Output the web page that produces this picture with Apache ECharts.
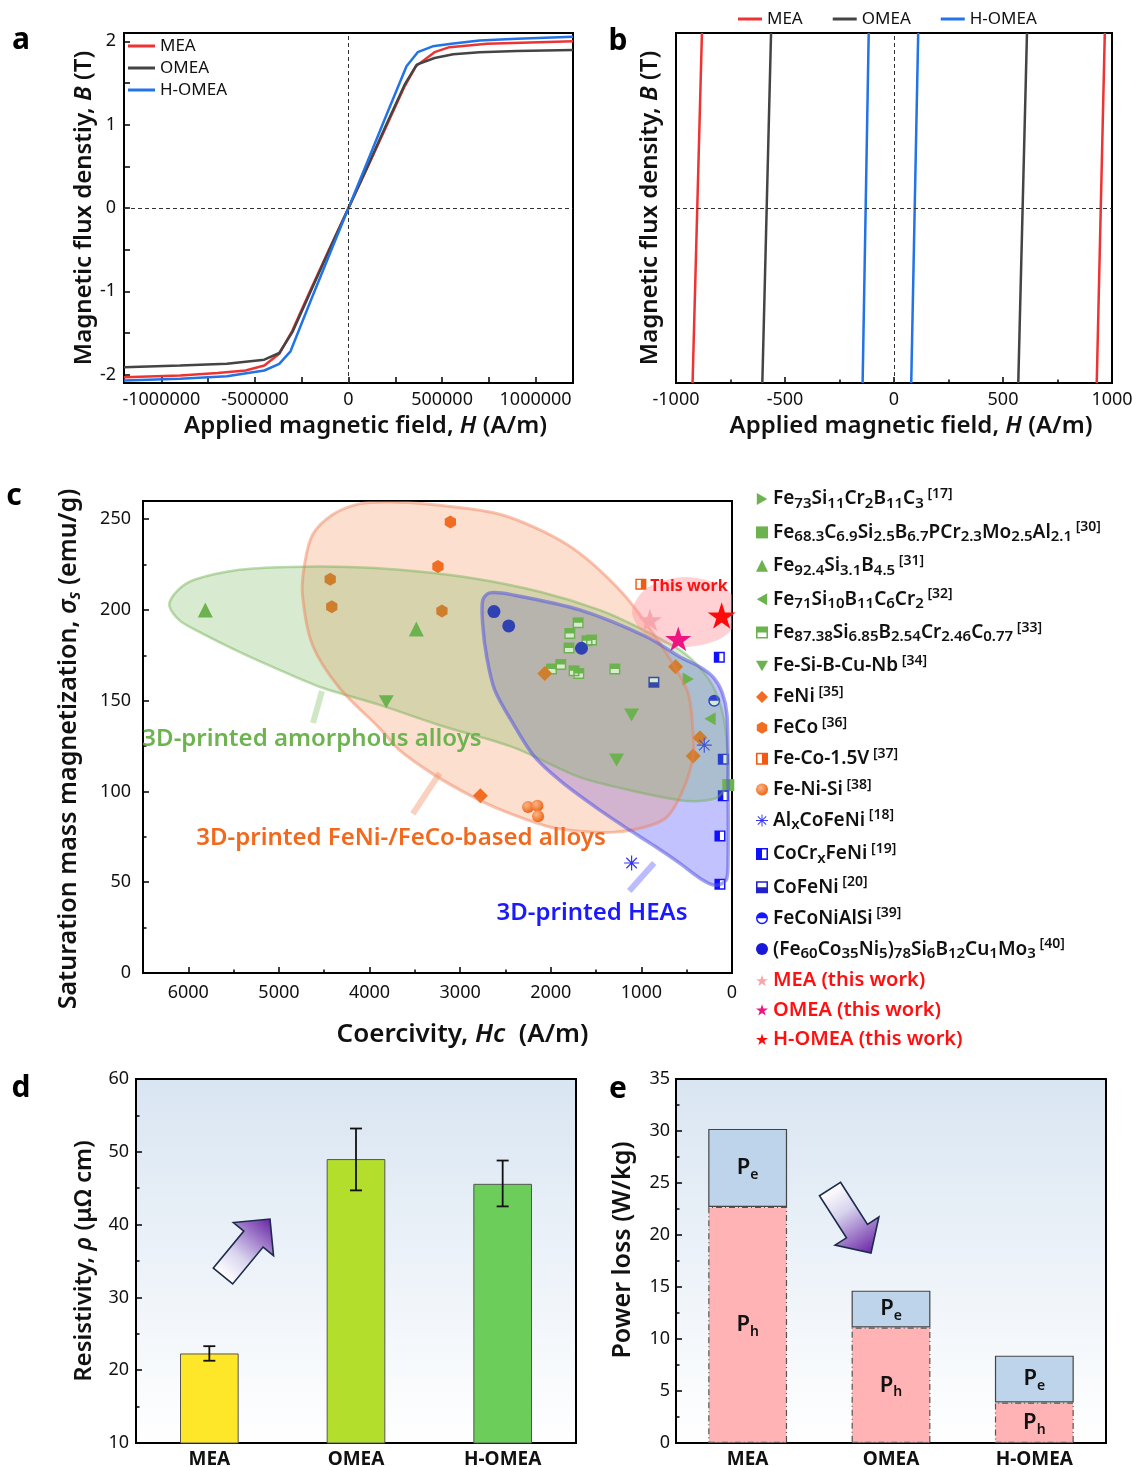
<!DOCTYPE html>
<html lang="en">
<head>
<meta charset="UTF-8">
<title>Magnetic and electrical properties</title>
<script src="https://cdn.jsdelivr.net/npm/echarts@6/dist/echarts.min.js"></script>
<style>
  html, body { margin: 0; padding: 0; background: #fff; }
  #main { width: 1132px; height: 1467px; }
</style>
</head>
<body>
<div id="main"></div>
<script>
var FONT = '"Noto Sans", "Open Sans", "DejaVu Sans", sans-serif';

// ---------- a: B-H curves (H in A/m, B in T) ----------
var curveMEA = [[-1200000,-2.03],[-900000,-2.01],[-700000,-1.98],[-550000,-1.95],[-450000,-1.89],[-370000,-1.75],[-300000,-1.47],[-200000,-0.97],[-100000,-0.48],[0,0],[100000,0.48],[200000,0.97],[300000,1.46],[360000,1.70],[460000,1.87],[540000,1.93],[740000,1.97],[1200000,2.00]];
var curveOMEA = [[-1200000,-1.91],[-900000,-1.89],[-650000,-1.87],[-450000,-1.82],[-370000,-1.74],[-300000,-1.49],[-200000,-0.99],[-100000,-0.49],[0,0],[100000,0.49],[200000,0.99],[300000,1.48],[365000,1.72],[460000,1.80],[560000,1.845],[700000,1.87],[900000,1.885],[1200000,1.895]];
var curveHOMEA = [[-1200000,-2.07],[-900000,-2.05],[-650000,-2.02],[-450000,-1.95],[-370000,-1.87],[-310000,-1.72],[-200000,-1.10],[-100000,-0.55],[0,0],[100000,0.55],[200000,1.10],[310000,1.70],[370000,1.87],[450000,1.94],[550000,1.97],[700000,2.01],[900000,2.03],[1200000,2.055]];
var hTicksA = [-1000000, -500000, 0, 500000, 1000000];
var hMinorA = [-1000000,-750000,-500000,-250000,0,250000,500000,750000,1000000];
var bTicksA = [-2, -1, 0, 1, 2];
var bMinorA = [-2,-1.5,-1,-0.5,0,0.5,1,1.5,2];

// ---------- b: loop detail near B = 0 ----------
var loopMEAdesc = [[-924,-0.02],[-881,0.02]];
var loopMEAasc = [[930,-0.02],[967,0.02]];
var loopOMEAdesc = [[-604,-0.02],[-564,0.02]];
var loopOMEAasc = [[570,-0.02],[610,0.02]];
var loopHOMEAdesc = [[-144,-0.02],[-116,0.02]];
var loopHOMEAasc = [[79,-0.02],[111,0.02]];

// ---------- c: Hc (A/m) vs sigma_s (emu/g) ----------
var feSiCrBC = [[483,162]];
var feCSiBPCrMoAl = [[41,103.5]];
var feSiB = [[5812,200],[3484,189.5]];
var feSiBCCr = [[243,140]];
var feSiBCrCo = [[1698,193],[1790,187],[1550,183.5],[1600,183],[1798,179],[1890,170],[1992,167.5],[1743,166.5],[1691,165],[1293,167.5]];
var feSiBCuNb = [[3816,149.4],[1108,142.1],[1274,117.3]];
var feNi = [[2066,165],[622,168.7],[354,129.6],[428,119.6],[2777,97.6]];
var feCo = [[3108,248.4],[3245,223.9],[4434,216.9],[4417,201.8],[3201,199.4]];
var feCoV = [[1006,214.2]];
var feNiSi = [[2251,91.5],[2147,92.1],[2140,86.4]];
var alCoFeNi = [[306,125.5],[1108,60.6]];
var coCrFeNi = [[140,173.9],[96,117.8],[96,97.6],[133,75.5],[133,48.9]];
var coFeNi = [[862,160.1]];
var feCoNiAlSi = [[196,150]];
var feCoNiSiBCuMo = [[2627,199.1],[2464,191.2],[1661,178.9]];
var meaWork = [[906,194.5]];
var omeaWork = [[593,184]];
var homeaWork = [[114,196.9]];

// shaded groups (outlines in data units)
var greenRegion = [[6210,202.7],[6122,210.5],[5934,216.6],[5437,222.1],[4884,223.7],[4221,223.7],[3669,222.1],[2895,217.7],[2122,210],[1459,199.9],[1017,190],[575,177.9],[354,168],[188,155.8],[88,139.3],[44,117.2],[55,103.5],[155,96.9],[354,94.7],[575,95.2],[1127,100.7],[1680,107.9],[2420,124.4],[3227,136.5],[3890,147.7],[4519,157.1],[4995,167],[5437,176.9],[5879,187.9],[6100,194.4]];
var orangeRegion = [[3779,259.5],[3282,257.9],[2542,252.4],[1812,235.8],[1260,212.1],[873,187.3],[497,155.8],[431,133.8],[431,119],[541,100.8],[718,85.9],[961,80.4],[1293,77.6],[1680,78.1],[2011,80.4],[2542,89.7],[2895,98],[3282,109],[3669,122.8],[3890,134.9],[4332,157],[4630,180.7],[4740,208.3],[4718,224.8],[4630,241.3],[4409,252.4],[4111,258.4]];
var blueRegion = [[2751,205.4],[2674,209.4],[2420,208.3],[1680,200],[939,185.1],[575,174.1],[354,168.6],[210,163.1],[111,154.8],[55,142.1],[44,106.2],[44,62.1],[66,51.1],[188,48.3],[354,52.2],[575,60.4],[851,69.8],[1127,78.6],[1459,89.7],[1867,104.7],[2177,119],[2420,137.8],[2619,156],[2707,174.1],[2751,191.7]];
var pinkRegion = [[-89,199],[86,212.5],[508,218.2],[930,212.5],[1105,199],[930,185.3],[508,179.6],[86,185.3]];
var greenPointer = [[4525,155.3],[4624,137.7]];
var orangePointer = [[3226,110.1],[3523,87.6]];
var bluePointer = [[859,60.6],[1134,45.2]];

// ---------- d: resistivity ----------
var cats = ['MEA', 'OMEA', 'H-OMEA'];
var resist = [22.3, 49.0, 45.6];
var resistLo = [21.3, 44.7, 42.5];
var resistHi = [23.3, 53.2, 48.8];

// ---------- e: power loss ----------
var lossPh = [22.7, 11.1, 3.9];
var lossPe = [7.5, 3.55, 4.5];

// ---------- symbols ----------
var SQ = 'M0,0H10V10H0Z M1.3,1.3V8.7H8.7V1.3Z ';
var SQ_TOP = 'path://' + SQ + 'M1.3,1.3H8.7V5H1.3Z';
var SQ_BOTTOM = 'path://' + SQ + 'M1.3,5H8.7V8.7H1.3Z';
var SQ_LEFT = 'path://' + SQ + 'M1.3,1.3H5V8.7H1.3Z';
var SQ_RIGHT = 'path://' + SQ + 'M5,1.3H8.7V8.7H5Z';
var CIRC_TOP = 'path://M0,5A5,5,0,0,1,10,5A5,5,0,0,1,0,5Z M1.2,5A3.8,3.8,0,0,0,8.8,5A3.8,3.8,0,0,0,1.2,5Z M1.2,5A3.8,3.8,0,0,1,8.8,5Z';
var HEX = 'path://M5,0L9.33,2.5L9.33,7.5L5,10L0.67,7.5L0.67,2.5Z';
var TRI_DOWN = 'path://M0,0L10,0L5,8.66Z';
var TRI_RIGHT = 'path://M0,0L8.66,5L0,10Z';
var TRI_LEFT = 'path://M8.66,0L8.66,10L0,5Z';
var STAR = 'path://M5,0L6.12,3.45L9.76,3.45L6.82,5.59L7.94,9.05L5,6.91L2.06,9.05L3.18,5.59L0.24,3.45L3.88,3.45Z';
var ASTER = 'path://M0,4.6H10V5.4H0Z M4.6,0H5.4V10H4.6Z M1.78,1.22L8.78,8.22L8.22,8.78L1.22,1.78Z M8.22,1.22L8.78,1.78L1.78,8.78L1.22,8.22Z';

var GREEN = '#6cb24f', ORANGE = '#f26c22';

var legendRich = {
  'Fe73Si11Cr2B11C3': 'Fe_{73}Si_{11}Cr_{2}B_{11}C_{3}^{ [17]}',
  'Fe68.3C6.9Si2.5B6.7PCr2.3Mo2.5Al2.1': 'Fe_{68.3}C_{6.9}Si_{2.5}B_{6.7}PCr_{2.3}Mo_{2.5}Al_{2.1}^{ [30]}',
  'Fe92.4Si3.1B4.5': 'Fe_{92.4}Si_{3.1}B_{4.5}^{ [31]}',
  'Fe71Si10B11C6Cr2': 'Fe_{71}Si_{10}B_{11}C_{6}Cr_{2}^{ [32]}',
  'Fe87.38Si6.85B2.54Cr2.46C0.77': 'Fe_{87.38}Si_{6.85}B_{2.54}Cr_{2.46}C_{0.77}^{ [33]}',
  'Fe-Si-B-Cu-Nb': 'Fe-Si-B-Cu-Nb^{ [34]}',
  'FeNi': 'FeNi^{ [35]}',
  'FeCo': 'FeCo^{ [36]}',
  'Fe-Co-1.5V': 'Fe-Co-1.5V^{ [37]}',
  'Fe-Ni-Si': 'Fe-Ni-Si^{ [38]}',
  'AlxCoFeNi': 'Al_{x}CoFeNi^{ [18]}',
  'CoCrxFeNi': 'CoCr_{x}FeNi^{ [19]}',
  'CoFeNi': 'CoFeNi^{ [20]}',
  'FeCoNiAlSi': 'FeCoNiAlSi^{ [39]}',
  '(Fe60Co35Ni5)78Si6B12Cu1Mo3': '(Fe_{60}Co_{35}Ni_{5})_{78}Si_{6}B_{12}Cu_{1}Mo_{3}^{ [40]}'
};

function richText(s) {
  return s.replace(/_\{([^}]*)\}|\^\{([^}]*)\}|([^_^]+)/g, function (m, sub, sup, txt) {
    if (sub !== undefined) return '{s|' + sub + '}';
    if (sup !== undefined) return '{u|' + sup + '}';
    return '{t|' + txt + '}';
  });
}

function makeRich(size) {
  return {
    n: { fontSize: size, fontWeight: 600, fontFamily: FONT, color: '#111', lineHeight: 30 },
    i: { fontSize: size, fontWeight: 600, fontStyle: 'italic', fontFamily: FONT, color: '#111', lineHeight: 30 },
    is: { fontSize: Math.round(size * 0.66), fontWeight: 600, fontStyle: 'italic', fontFamily: FONT, color: '#111', lineHeight: 12, verticalAlign: 'bottom' }
  };
}

function plainNum(v) { return String(v); }

function axis(extra) {
  var base = {
    type: 'value',
    axisLine: { show: true, onZero: false, lineStyle: { color: '#000', width: 2 } },
    axisTick: { show: true, inside: true, length: 6, lineStyle: { color: '#000', width: 1.5 } },
    minorTick: { show: true, splitNumber: 2, length: 3.5, lineStyle: { color: '#000', width: 1.5 } },
    splitLine: { show: false },
    minorSplitLine: { show: false },
    axisLabel: { color: '#111', fontSize: 18, fontFamily: FONT, formatter: plainNum },
    nameLocation: 'middle',
    nameTextStyle: { rich: makeRich(24) }
  };
  return echarts.util.merge(base, extra, true);
}

function lineSeries(name, data, color, idx) {
  return {
    type: 'line', name: name, xAxisIndex: idx, yAxisIndex: idx, data: data,
    symbol: 'none', lineStyle: { color: color, width: 2.5 }, itemStyle: { color: color },
    silent: true
  };
}

function dashedZero(idx) {
  return {
    type: 'line', xAxisIndex: idx, yAxisIndex: idx, data: [], silent: true,
    markLine: {
      silent: true, symbol: ['none', 'none'], label: { show: false },
      lineStyle: { type: [4, 3], color: '#333', width: 1 },
      data: [{ xAxis: 0 }, { yAxis: 0 }]
    }
  };
}

function sc(name, data, symbol, size, color, z) {
  return {
    type: 'scatter', name: name, xAxisIndex: 2, yAxisIndex: 2, data: data,
    symbol: symbol, symbolSize: size, symbolKeepAspect: true,
    itemStyle: { color: color, opacity: 1 }, z: z || 2, silent: true
  };
}

function region(outline, fill, stroke, lw, z) {
  return {
    type: 'custom', xAxisIndex: 2, yAxisIndex: 2, z: z, silent: true, clip: true,
    data: [[3000, 150]],
    renderItem: function (params, api) {
      var pts = outline.map(function (p) { return api.coord(p); });
      return { type: 'polygon', shape: { points: pts, smooth: 0.3 },
        style: { fill: fill, stroke: stroke, lineWidth: lw } };
    }
  };
}

function pointer(pts, color) {
  return {
    type: 'custom', xAxisIndex: 2, yAxisIndex: 2, z: 3, silent: true, clip: true,
    data: [[3000, 150]],
    renderItem: function (params, api) {
      var a = api.coord(pts[0]), b = api.coord(pts[1]);
      return { type: 'line', shape: { x1: a[0], y1: a[1], x2: b[0], y2: b[1] },
        style: { stroke: color, lineWidth: 6 } };
    }
  };
}

function arrowPoints(x0, y0, x1, y1, shaft, head, headLen) {
  var dx = x1 - x0, dy = y1 - y0, L = Math.sqrt(dx * dx + dy * dy);
  var ux = dx / L, uy = dy / L, nx = -uy, ny = ux;
  var local = [[0, -shaft], [L - headLen, -shaft], [L - headLen, -head], [L, 0],
               [L - headLen, head], [L - headLen, shaft], [0, shaft]];
  return local.map(function (p) { return [x0 + ux * p[0] + nx * p[1], y0 + uy * p[0] + ny * p[1]]; });
}

function arrow(x0, y0, x1, y1) {
  return {
    type: 'polygon', z: 50,
    shape: { points: arrowPoints(x0, y0, x1, y1, 12.5, 26, 26) },
    style: {
      fill: { type: 'linear', x: x0, y: y0, x2: x1, y2: y1, global: true,
        colorStops: [{ offset: 0, color: '#ffffff' }, { offset: 0.35, color: '#d8d4ee' }, { offset: 1, color: '#6a26a6' }] },
      stroke: '#1c2a4c', lineWidth: 1.6
    }
  };
}

function txt(x, y, text, font, color) {
  return { type: 'text', x: x, y: y, z: 60,
    style: { text: text, font: font, fill: color, align: 'center', verticalAlign: 'middle',
             textAlign: 'center', textVerticalAlign: 'middle' } };
}

var bgGrad = new echarts.graphic.LinearGradient(0, 0, 0, 1, [
  { offset: 0, color: '#d9e5f2' }, { offset: 1, color: '#ffffff' }
]);

var gridBase = { show: true, borderColor: '#000', borderWidth: 2, containLabel: false, outerBoundsMode: 'none' };

var barRich = {
  p: { fontSize: 22, fontWeight: 600, fontFamily: FONT, color: '#111', lineHeight: 28 },
  s: { fontSize: 14, fontWeight: 600, fontFamily: FONT, color: '#111', lineHeight: 12, verticalAlign: 'bottom' }
};

var RED_ITEMS = { 'MEA (this work)': 1, 'OMEA (this work)': 1, 'H-OMEA (this work)': 1 };

var chart = echarts.init(document.getElementById('main'));

var option = {
  animation: false,
  backgroundColor: '#fff',
  textStyle: { fontFamily: FONT },
  grid: [
    echarts.util.extend({ left: 124, top: 33, width: 449, height: 350 }, gridBase),
    echarts.util.extend({ left: 676, top: 33, width: 436, height: 350 }, gridBase),
    echarts.util.extend({ left: 143, top: 501, width: 589, height: 472 }, gridBase),
    echarts.util.extend({ left: 136, top: 1079, width: 440, height: 364, backgroundColor: bgGrad }, gridBase),
    echarts.util.extend({ left: 676, top: 1079, width: 430, height: 364, backgroundColor: bgGrad }, gridBase)
  ],
  xAxis: [
    axis({ gridIndex: 0, min: -1200000, max: 1200000,
      axisLabel: { customValues: hTicksA, margin: 8 },
      axisTick: { customValues: hMinorA }, minorTick: { show: false },
      name: '{n|Applied magnetic field, }{i|H}{n| (A/m)}', nameGap: 28,
      nameTextStyle: { padding: [0, 0, 0, 34] } }),
    axis({ gridIndex: 1, min: -1000, max: 1000, interval: 500,
      axisLabel: { margin: 8 },
      name: '{n|Applied magnetic field, }{i|H}{n| (A/m)}', nameGap: 28,
      nameTextStyle: { padding: [0, 0, 0, 34] } }),
    axis({ gridIndex: 2, min: 0, max: 6500, interval: 1000, inverse: true,
      axisLabel: { margin: 11, showMaxLabel: false },
      name: '{n|Coercivity, }{i|Hc}{n|  (A/m)}', nameGap: 47,
      nameTextStyle: { padding: [0, 0, 0, 50], rich: makeRich(26) } }),
    axis({ gridIndex: 3, type: 'category', data: cats,
      axisTick: { show: false }, minorTick: { show: false },
      axisLabel: { fontSize: 19, fontWeight: 'bold', margin: 7, formatter: null } }),
    axis({ gridIndex: 4, type: 'category', data: cats,
      axisTick: { show: false }, minorTick: { show: false },
      axisLabel: { fontSize: 19, fontWeight: 'bold', margin: 7, formatter: null } })
  ],
  yAxis: [
    axis({ gridIndex: 0, min: -2.1, max: 2.1,
      axisLabel: { customValues: bTicksA, margin: 8 },
      axisTick: { customValues: bMinorA }, minorTick: { show: false },
      name: '{n|Magnetic flux denstiy, }{i|B}{n| (T)}', nameGap: 24 }),
    axis({ gridIndex: 1, min: -0.02, max: 0.02,
      axisLabel: { show: false }, axisTick: { show: false }, minorTick: { show: false },
      name: '{n|Magnetic flux density, }{i|B}{n| (T)}', nameGap: 11 }),
    axis({ gridIndex: 2, min: 0, max: 260, interval: 50,
      axisLabel: { margin: 12, showMaxLabel: false },
      name: '{n|Saturation mass magnetization, }{i|σ}{is|s}{n| (emu/g)}', nameGap: 59,
      nameTextStyle: { padding: [0, 24, 0, 0], rich: makeRich(25) } }),
    axis({ gridIndex: 3, min: 10, max: 60, interval: 10,
      axisLabel: { margin: 7 },
      name: '{n|Resistivity, }{i|ρ}{n| (μΩ cm)}', nameGap: 37 }),
    axis({ gridIndex: 4, min: 0, max: 35, interval: 5,
      axisLabel: { margin: 6 },
      name: '{n|Power loss (W/kg)}', nameGap: 38,
      nameTextStyle: { padding: [0, 0, 0, 22], rich: makeRich(25) } })
  ],
  legend: [
    { data: ['MEA', 'OMEA', 'H-OMEA'], orient: 'vertical', left: 128, top: 36, padding: 0,
      icon: 'rect', itemWidth: 27, itemHeight: 3, itemGap: 2, selectedMode: false,
      textStyle: { fontSize: 17, fontFamily: FONT, color: '#111', lineHeight: 20 } },
    { data: ['MEA', 'OMEA', 'H-OMEA'], orient: 'horizontal', left: 738, top: 9, padding: 0,
      icon: 'rect', itemWidth: 24, itemHeight: 3, itemGap: 30, selectedMode: false,
      textStyle: { fontSize: 17, fontFamily: FONT, color: '#111', lineHeight: 20 } },
    { orient: 'vertical', left: 756, top: 487, padding: 0, itemWidth: 12, itemHeight: 12, itemGap: 9.4,
      selectedMode: false,
      data: [
        'Fe73Si11Cr2B11C3', 'Fe68.3C6.9Si2.5B6.7PCr2.3Mo2.5Al2.1', 'Fe92.4Si3.1B4.5',
        'Fe71Si10B11C6Cr2', 'Fe87.38Si6.85B2.54Cr2.46C0.77', 'Fe-Si-B-Cu-Nb', 'FeNi', 'FeCo',
        'Fe-Co-1.5V', 'Fe-Ni-Si', 'AlxCoFeNi', 'CoCrxFeNi', 'CoFeNi', 'FeCoNiAlSi',
        '(Fe60Co35Ni5)78Si6B12Cu1Mo3',
        'MEA (this work)', 'OMEA (this work)', 'H-OMEA (this work)'
      ],
      formatter: function (name) {
        if (RED_ITEMS[name]) return '{r|' + name + '}';
        return richText(legendRich[name] || name);
      },
      textStyle: {
        fontFamily: FONT, fontSize: 19, color: '#111',
        rich: {
          t: { fontSize: 19, fontWeight: 600, fontFamily: FONT, lineHeight: 24 },
          s: { fontSize: 15, fontWeight: 600, fontFamily: FONT, lineHeight: 12, verticalAlign: 'bottom' },
          u: { fontSize: 14, fontWeight: 600, fontFamily: FONT, lineHeight: 12, verticalAlign: 'top' },
          r: { fontSize: 20, fontWeight: 600, fontFamily: FONT, lineHeight: 24, color: '#ff1010' }
        }
      } }
  ],
  graphic: { elements: [
    txt(21, 40, 'a', 'bold 30px ' + FONT, '#000'),
    txt(618, 41, 'b', 'bold 30px ' + FONT, '#000'),
    txt(14, 496, 'c', 'bold 30px ' + FONT, '#000'),
    txt(21, 1088, 'd', 'bold 30px ' + FONT, '#000'),
    txt(618, 1089, 'e', 'bold 30px ' + FONT, '#000'),
    txt(312, 739, '3D-printed amorphous alloys', '600 24px ' + FONT, '#6db451'),
    txt(401, 838, '3D-printed FeNi-/FeCo-based alloys', '600 24px ' + FONT, '#f2691e'),
    txt(592, 913, '3D-printed HEAs', '600 24px ' + FONT, '#1a1aff'),
    txt(689, 586, 'This work', 'bold 16px ' + FONT, '#ff1010'),
    arrow(223, 1276, 270, 1219),
    arrow(830, 1189, 871, 1253)
  ] },
  series: [
    // a
    lineSeries('MEA', curveMEA, '#ee3333', 0),
    lineSeries('OMEA', curveOMEA, '#444444', 0),
    lineSeries('H-OMEA', curveHOMEA, '#2273e6', 0),
    dashedZero(0),
    // b
    lineSeries('MEA', loopMEAdesc, '#ee3333', 1),
    lineSeries('MEA', loopMEAasc, '#ee3333', 1),
    lineSeries('OMEA', loopOMEAdesc, '#444444', 1),
    lineSeries('OMEA', loopOMEAasc, '#444444', 1),
    lineSeries('H-OMEA', loopHOMEAdesc, '#2273e6', 1),
    lineSeries('H-OMEA', loopHOMEAasc, '#2273e6', 1),
    dashedZero(1),
    // c: fills under the markers
    region(blueRegion, 'rgba(95,95,255,0.38)', null, 0, 1),
    region(orangeRegion, 'rgba(250,150,100,0.30)', null, 0, 1),
    // c: white backs for half-filled markers
    sc('bg1', feSiBCrCo, 'rect', 10, '#ffffff', 2),
    sc('bg2', feCoV, 'rect', 10, '#ffffff', 2),
    sc('bg3', coCrFeNi, 'rect', 10, '#ffffff', 2),
    sc('bg4', coFeNi, 'rect', 10, '#ffffff', 2),
    sc('bg5', feCoNiAlSi, 'circle', 11, '#ffffff', 2),
    // c: markers
    sc('Fe73Si11Cr2B11C3', feSiCrBC, TRI_RIGHT, 13, GREEN),
    sc('Fe68.3C6.9Si2.5B6.7PCr2.3Mo2.5Al2.1', feCSiBPCrMoAl, 'rect', 12, GREEN),
    sc('Fe92.4Si3.1B4.5', feSiB, 'triangle', 15, GREEN),
    sc('Fe71Si10B11C6Cr2', feSiBCCr, TRI_LEFT, 13, GREEN),
    sc('Fe87.38Si6.85B2.54Cr2.46C0.77', feSiBCrCo, SQ_TOP, 11, GREEN),
    sc('Fe-Si-B-Cu-Nb', feSiBCuNb, TRI_DOWN, 15, GREEN),
    sc('FeNi', feNi, 'diamond', 15, ORANGE),
    sc('FeCo', feCo, HEX, 13, ORANGE),
    sc('Fe-Co-1.5V', feCoV, SQ_RIGHT, 11, '#f25a12'),
    sc('Fe-Ni-Si', feNiSi, 'circle', 12, { type: 'radial', x: 0.38, y: 0.35, r: 0.7,
      colorStops: [{ offset: 0, color: '#ffb68a' }, { offset: 1, color: '#e9600f' }] }),
    sc('AlxCoFeNi', alCoFeNi, ASTER, 15, '#3535ff'),
    sc('CoCrxFeNi', coCrFeNi, SQ_LEFT, 11, '#1010ff'),
    sc('CoFeNi', coFeNi, SQ_BOTTOM, 11, '#2222c8'),
    sc('FeCoNiAlSi', feCoNiAlSi, CIRC_TOP, 12, '#1515ff'),
    sc('(Fe60Co35Ni5)78Si6B12Cu1Mo3', feCoNiSiBCuMo, 'circle', 13, '#1818d8'),
    // c: green fill over markers, then outlines
    region(greenRegion, 'rgba(110,180,80,0.27)', 'rgba(110,175,80,0.45)', 2.5, 3),
    region(orangeRegion, null, 'rgba(240,125,85,0.45)', 3, 3),
    region(blueRegion, null, 'rgba(85,85,225,0.55)', 3.5, 3),
    region(pinkRegion, 'rgba(255,140,150,0.40)', null, 0, 3),
    pointer(greenPointer, 'rgba(120,185,90,0.35)'),
    pointer(orangePointer, 'rgba(245,150,110,0.45)'),
    pointer(bluePointer, 'rgba(120,120,255,0.5)'),
    // c: this work
    sc('MEA (this work)', meaWork, STAR, 24, '#f8a6ae', 4),
    sc('OMEA (this work)', omeaWork, STAR, 26, '#ef1580', 4),
    sc('H-OMEA (this work)', homeaWork, STAR, 28, '#ff0a0a', 4),
    // d
    {
      type: 'bar', xAxisIndex: 3, yAxisIndex: 3, barWidth: '40%', silent: true,
      data: resist.map(function (v, i) {
        return { value: v, itemStyle: { color: ['#fee628', '#b4de2c', '#6ccd5a'][i] } };
      }),
      itemStyle: { borderColor: '#555', borderWidth: 1 }
    },
    {
      type: 'custom', xAxisIndex: 3, yAxisIndex: 3, z: 5, silent: true,
      data: cats.map(function (c, i) { return [i, resistLo[i], resistHi[i]]; }),
      renderItem: function (params, api) {
        var x = api.value(0);
        var lo = api.coord([x, api.value(1)]), hi = api.coord([x, api.value(2)]);
        var w = 6, st = { stroke: '#111', lineWidth: 1.8 };
        return { type: 'group', children: [
          { type: 'line', shape: { x1: lo[0], y1: lo[1], x2: hi[0], y2: hi[1] }, style: st },
          { type: 'line', shape: { x1: lo[0] - w, y1: lo[1], x2: lo[0] + w, y2: lo[1] }, style: st },
          { type: 'line', shape: { x1: hi[0] - w, y1: hi[1], x2: hi[0] + w, y2: hi[1] }, style: st }
        ] };
      }
    },
    // e
    {
      type: 'bar', name: 'Ph', stack: 'loss', xAxisIndex: 4, yAxisIndex: 4, barWidth: '55%', silent: true,
      data: lossPh,
      itemStyle: { color: '#ffb3b5', borderColor: '#555', borderWidth: 1.2, borderType: [6, 3, 1, 3] },
      label: { show: true, position: 'inside', formatter: '{p|P}{s|h}', rich: barRich }
    },
    {
      type: 'bar', name: 'Pe', stack: 'loss', xAxisIndex: 4, yAxisIndex: 4, barWidth: '55%', silent: true,
      data: lossPe,
      itemStyle: { color: '#bdd4ea', borderColor: '#444', borderWidth: 1.2 },
      label: { show: true, position: 'inside', formatter: '{p|P}{s|e}', rich: barRich }
    }
  ]
};

chart.setOption(option);
</script>
</body>
</html>
